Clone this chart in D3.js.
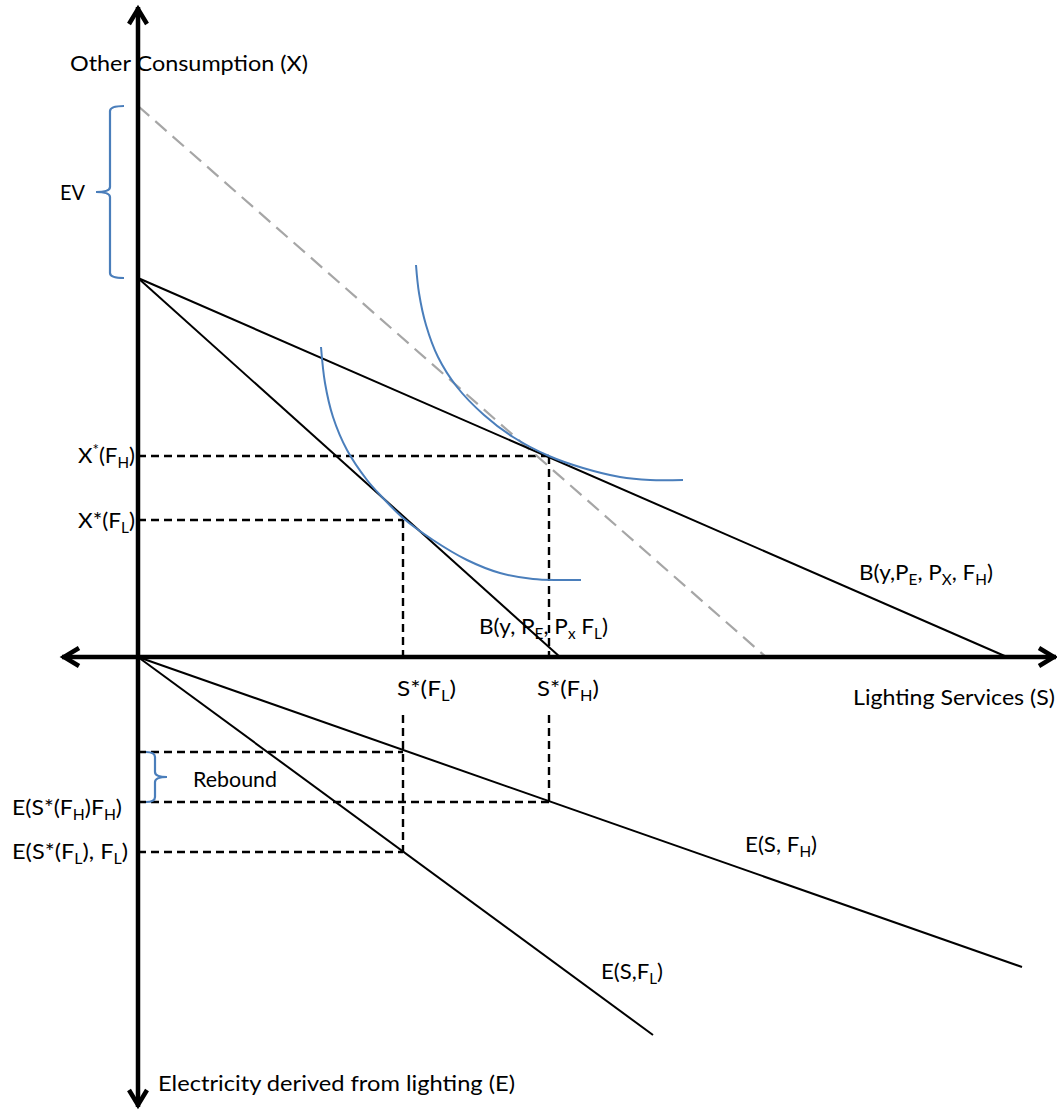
<!DOCTYPE html>
<html>
<head>
<meta charset="utf-8">
<script src="https://cdn.jsdelivr.net/npm/d3@7"></script>
<style>
body { margin: 0; background: #fff; }
svg text { font-family: Lato, "Open Sans", sans-serif; font-size: 22px; fill: #000; }
.axis { stroke: #000; stroke-width: 4.5; fill: none; }
.arrow { stroke: #000; stroke-width: 4.5; fill: none; stroke-linejoin: miter; }
.line { stroke: #000; stroke-width: 2; fill: none; }
.guide { stroke: #000; stroke-width: 2.4; fill: none; stroke-dasharray: 8 5; }
.ev { stroke: #a6a6a6; stroke-width: 2.2; fill: none; stroke-dasharray: 15 8; }
.ic { stroke: #4a7ebb; stroke-width: 2; fill: none; }
.brace { stroke: #4a7ebb; stroke-width: 2.2; fill: none; }
</style>
</head>
<body>
<svg id="chart" width="1057" height="1114"></svg>
<script>
// everything in S (across) and X (up) units, E is drawn below the S axis as negative values
var sAxis = [-7.6, 91.8];
var xAxis = [-45, 65];

var budgetHigh = [[0, 37.9], [86.9, 0]];
var budgetLow  = [[0, 37.9], [42.2, 0]];
var evBudget   = [[0, 55.1], [62.8, 0]];
var elecHigh   = [[0, 0], [88.4, -31.0]];
var elecLow    = [[0, 0], [51.5, -37.8]];

// indifference curves, points
var icLow  = [[18.3, 31.0], [18.7, 27.4], [19.5, 24.0], [20.9, 20.7], [22.9, 17.7], [24.5, 15.9], [26.5, 13.9],
              [29.5, 11.7], [32.9, 9.7], [36.2, 8.4], [39.5, 7.8], [42.2, 7.7], [44.3, 7.7]];
var icHigh = [[27.8, 39.2], [28.1, 36.4], [28.8, 33.2], [30.0, 30.0], [31.9, 27.0], [34.6, 24.2], [37.5, 22.0],
              [41.1, 20.1], [44.5, 18.9], [48.2, 18.0], [51.2, 17.7], [54.5, 17.7]];

var sStar = [26.5, 41.1];    // S*(FL), S*(FH)
var xStar = [13.7, 20.1];    // X*(FL), X*(FH)
var eStar = [-19.5, -14.5];  // E(S*(FL),FL), E(S*(FH),FH)
var eRebound = -9.5;
var labelGap = -5.8;         // where the S* guides pick up again under their labels

var svg = d3.select("#chart");
var x = d3.scaleLinear().domain([0, 100]).range([138, 1138]);
var y = d3.scaleLinear().domain([0, 100]).range([657, -343]);

var line = d3.line().x(function(d){ return x(d[0]); }).y(function(d){ return y(d[1]); });
var smooth = d3.line().x(function(d){ return x(d[0]); }).y(function(d){ return y(d[1]); }).curve(d3.curveCatmullRom);

function draw(pts, cls) {
	svg.append("path").attr("class", cls).attr("d", line(pts));
}

// dashed guides
[0, 1].forEach(function(i) {
	draw([[0, xStar[i]], [sStar[i], xStar[i]]], "guide");
	draw([[sStar[i], xStar[i]], [sStar[i], 0]], "guide");
	draw([[sStar[i], labelGap], [sStar[i], eStar[i]]], "guide");
	draw([[0, eStar[i]], [sStar[i], eStar[i]]], "guide");
});
draw([[0, eRebound], [sStar[0], eRebound]], "guide");

draw(evBudget, "ev");
draw(budgetHigh, "line");
draw(budgetLow, "line");
draw(elecHigh, "line");
draw(elecLow, "line");

svg.append("path").attr("class", "ic").attr("d", smooth(icLow));
svg.append("path").attr("class", "ic").attr("d", smooth(icHigh));

// axes with open arrow heads
draw([[0, xAxis[0]], [0, xAxis[1]]], "axis");
draw([[sAxis[0], 0], [sAxis[1], 0]], "axis");
var ah = 9, al = 15;
function arrow(px, py, dx, dy) {
	var p = d3.path();
	p.moveTo(px - dx * al + dy * ah, py - dy * al + dx * ah);
	p.lineTo(px, py);
	p.lineTo(px - dx * al - dy * ah, py - dy * al - dx * ah);
	svg.append("path").attr("class", "arrow").attr("d", p.toString());
}
arrow(x(0), y(xAxis[1]) + 2, 0, -1);
arrow(x(0), y(xAxis[0]) - 2, 0, 1);
arrow(x(sAxis[0]) + 2, y(0), -1, 0);
arrow(x(sAxis[1]) - 2, y(0), 1, 0);

// curly braces
function brace(xEnd, xSpine, xTip, y0, y1) {
	var r = 5, ym = (y0 + y1) / 2, s = y1 > y0 ? 1 : -1;
	var p = d3.path();
	p.moveTo(xEnd, y0);
	p.quadraticCurveTo(xSpine, y0, xSpine, y0 + s * r);
	p.lineTo(xSpine, ym - s * r);
	p.quadraticCurveTo(xSpine, ym, xTip, ym);
	p.quadraticCurveTo(xSpine, ym, xSpine, ym + s * r);
	p.lineTo(xSpine, y1 - s * r);
	p.quadraticCurveTo(xSpine, y1, xEnd, y1);
	svg.append("path").attr("class", "brace").attr("d", p.toString());
}
brace(x(0) - 14, x(0) - 28, x(0) - 42, y(evBudget[0][1]), y(budgetHigh[0][1]));
brace(x(0) + 8, x(0) + 17, x(0) + 29, y(eRebound), y(eStar[1]));

// labels: parts are [text] or [text, "sub"|"sup"]
function label(px, py, w, parts) {
	var t = svg.append("text").attr("x", px).attr("y", py);
	var shift = 0;
	parts.forEach(function(p) {
		var s = p[1] == "sub" ? 5 : p[1] == "sup" ? -8 : 0;
		var ts = t.append("tspan").attr("dy", s - shift).text(p[0]);
		if (s) ts.style("font-size", "15px");
		shift = s;
	});
	t.attr("textLength", w).attr("lengthAdjust", "spacingAndGlyphs");
	return t;
}

var ox = x(0), oy = y(0);
label(ox - 68, y(xAxis[1]) + 64, 238, [["Other Consumption (X)"]]);
label(ox - 78, y((evBudget[0][1] + budgetHigh[0][1]) / 2) + 8, 25, [["EV"]]);
label(ox - 60, y(xStar[1]) + 7, 57, [["X"], ["*", "sup"], ["(F"], ["H", "sub"], [")"]]);
label(ox - 60, y(xStar[0]) + 8, 57, [["X*(F"], ["L", "sub"], [")"]]);
label(x(budgetHigh[1][0]) - 148, oy - 77, 134, [["B(y,P"], ["E", "sub"], [", P"], ["X", "sub"], [", F"], ["H", "sub"], [")"]]);
label(x(budgetLow[1][0]) - 81, oy - 23, 129, [["B(y, P"], ["E", "sub"], [", P"], ["x", "sub"], [" F"], ["L", "sub"], [")"]]);
label(x(sStar[0]) - 6, oy + 39, 59, [["S*(F"], ["L", "sub"], [")"]]);
label(x(sStar[1]) - 12, oy + 39, 62, [["S*(F"], ["H", "sub"], [")"]]);
label(x(sAxis[1]) - 203, oy + 48, 202, [["Lighting Services (S)"]]);
label(ox + 55, y((eRebound + eStar[1]) / 2) + 10, 84, [["Rebound"]]);
label(ox - 126, y(eStar[1]) + 13, 110, [["E(S*(F"], ["H", "sub"], [")F"], ["H", "sub"], [")"]]);
label(ox - 126, y(eStar[0]) + 7, 116, [["E(S*(F"], ["L", "sub"], ["), F"], ["L", "sub"], [")"]]);
label(x(elecHigh[1][0]) - 277, oy + 195, 72, [["E(S, F"], ["H", "sub"], [")"]]);
label(x(elecLow[1][0]) - 52, oy + 322, 62, [["E(S,F"], ["L", "sub"], [")"]]);
label(ox + 20, y(xAxis[0]) - 16, 357, [["Electricity derived from lighting (E)"]]);
</script>
</body>
</html>
